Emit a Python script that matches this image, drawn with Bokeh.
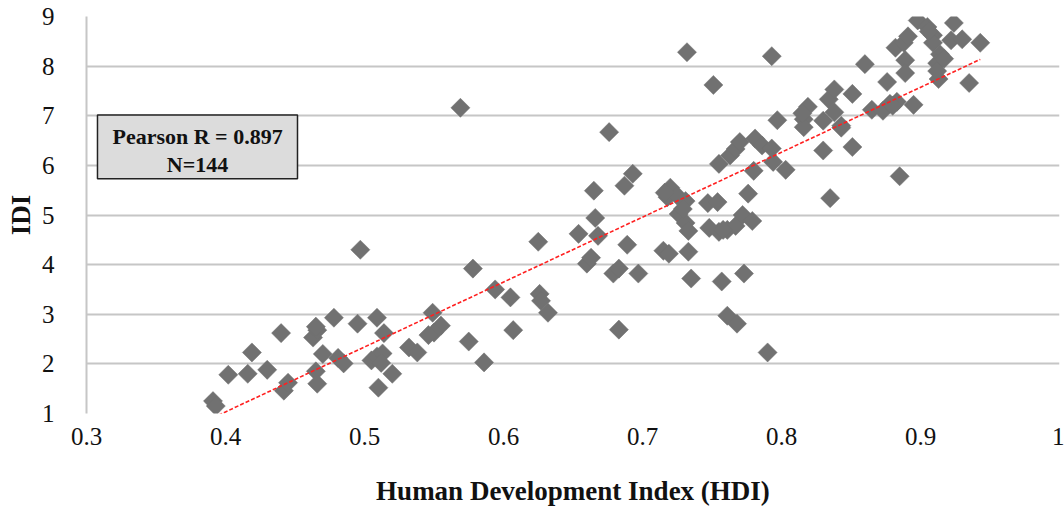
import numpy as np
from bokeh.plotting import figure
from bokeh.models import FixedTicker
from bokeh.core.properties import value
from bokeh.embed import file_html
from bokeh.resources import INLINE

hdi = [0.391, 0.393, 0.402, 0.416, 0.419, 0.430, 0.440, 0.442, 0.445, 0.463,
       0.466, 0.478, 0.470, 0.465, 0.466, 0.481, 0.485, 0.495, 0.497, 0.509,
       0.514, 0.505, 0.509, 0.513, 0.520, 0.510, 0.549, 0.555, 0.550, 0.546,
       0.532, 0.538, 0.575, 0.586, 0.578, 0.594, 0.605, 0.607, 0.625, 0.626,
       0.627, 0.632, 0.569, 0.654, 0.660, 0.663, 0.665, 0.666, 0.668, 0.676,
       0.679, 0.683, 0.683, 0.687, 0.689, 0.693, 0.697, 0.715, 0.719, 0.720,
       0.718, 0.725, 0.731, 0.726, 0.731, 0.733, 0.733, 0.735, 0.732, 0.747,
       0.754, 0.748, 0.755, 0.761, 0.767, 0.772, 0.779, 0.751, 0.757, 0.773,
       0.761, 0.768, 0.790, 0.755, 0.763, 0.767, 0.770, 0.781, 0.786, 0.793,
       0.794, 0.780, 0.776, 0.803, 0.797, 0.793, 0.819, 0.816, 0.816, 0.830,
       0.835, 0.830, 0.843, 0.834, 0.838, 0.838, 0.851, 0.851, 0.860, 0.865,
       0.873, 0.878, 0.883, 0.876, 0.885, 0.895, 0.882, 0.888, 0.891, 0.889,
       0.889, 0.898, 0.905, 0.909, 0.909, 0.922, 0.924, 0.930, 0.943, 0.914,
       0.912, 0.913, 0.935, 0.912, 0.716, 0.729, 0.758, 0.815, 0.843, 0.906,
       0.917, 0.465, 0.512, 0.880]
idi = [1.25, 1.15, 1.78, 1.80, 2.23, 1.88, 2.62, 1.46, 1.62, 2.53,
       2.68, 2.93, 2.20, 1.85, 1.60, 2.12, 2.01, 2.81, 4.30, 2.93,
       2.62, 2.07, 2.15, 2.21, 1.80, 1.52, 3.03, 2.77, 2.63, 2.58,
       2.33, 2.23, 2.45, 2.03, 3.92, 3.50, 3.34, 2.68, 4.46, 3.41,
       3.27, 3.03, 7.16, 4.62, 4.02, 4.14, 5.49, 4.94, 4.58, 6.67,
       3.82, 3.92, 2.69, 5.59, 4.40, 5.83, 3.82, 4.28, 4.22, 5.55,
       5.36, 5.39, 5.28, 5.02, 4.84, 4.68, 4.26, 3.72, 8.28, 5.24,
       5.26, 4.74, 4.66, 4.70, 4.78, 5.00, 4.88, 7.62, 3.66, 3.82,
       2.97, 2.81, 2.23, 6.03, 6.20, 6.33, 6.47, 6.54, 6.40, 6.34,
       6.07, 5.89, 5.43, 5.91, 6.91, 8.20, 7.18, 6.93, 6.77, 6.30,
       5.34, 6.90, 6.80, 7.33, 7.53, 7.07, 7.44, 6.37, 8.04, 7.12,
       7.10, 7.24, 7.28, 7.68, 5.78, 7.22, 8.37, 8.47, 8.60, 8.12,
       7.86, 8.92, 8.79, 8.62, 8.47, 8.52, 8.87, 8.54, 8.47, 8.24,
       8.06, 7.74, 7.66, 7.90, 5.45, 5.12, 4.70, 7.05, 6.76, 8.70,
       8.15, 2.75, 2.02, 7.20]

x_ticks = [0.3, 0.4, 0.5, 0.6, 0.7, 0.8, 0.9, 1.0]
y_ticks = [1, 2, 3, 4, 5, 6, 7, 8, 9]
stats_lines = ["Pearson R = 0.897", "N=144"]

serif = "Liberation Serif"

p = figure(width=1064, height=509, output_backend="svg", toolbar_location=None,
           x_range=(0.3, 1.0), y_range=(1, 9),
           min_border_left=86, min_border_right=5, min_border_top=16, min_border_bottom=96)
p.outline_line_color = None
p.background_fill_color = "white"

# grid
p.xgrid.grid_line_color = None
p.ygrid.ticker = FixedTicker(ticks=y_ticks)
p.ygrid.grid_line_color = "#c6c6c6"
p.ygrid.grid_line_width = 2

# axes
p.xaxis.ticker = FixedTicker(ticks=x_ticks)
p.xaxis.major_label_overrides = {1.0: "1"}
p.yaxis.ticker = FixedTicker(ticks=y_ticks)
for ax in (p.xaxis[0], p.yaxis[0]):
    ax.major_tick_line_color = None
    ax.minor_tick_line_color = None
    ax.major_label_text_font = serif
    ax.major_label_text_font_size = "25px"
    ax.major_label_text_color = "#111111"
    ax.axis_label_text_font = serif
    ax.axis_label_text_font_style = "bold"
    ax.axis_label_text_color = "#111111"
p.xaxis.axis_line_color = None
p.yaxis.axis_line_color = "#c6c6c6"
p.yaxis.axis_line_width = 2
p.xaxis.axis_label = "Human Development Index (HDI)"
p.yaxis.axis_label = "IDI"
p.xaxis.axis_label_text_font_size = "27px"
p.yaxis.axis_label_text_font_size = "27px"
p.xaxis.major_label_standoff = 8
p.yaxis.major_label_standoff = 26
p.xaxis.axis_label_standoff = 28
p.yaxis.axis_label_standoff = 3

# points
p.scatter(hdi, idi, marker="square", angle=np.pi / 4, size=13.5,
          fill_color="#717171", line_color="#717171", line_width=0.5)

# linear trendline fitted from the data
xa = np.array(hdi)
ya = np.array(idi)
slope, intercept = np.polyfit(xa, ya, 1)
xl = np.array([xa.min(), xa.max()])
p.line(xl, slope * xl + intercept, line_color="#ff2020", line_width=1.6, line_dash="4 2")

# annotation box
p.quad(left=[0.3079], right=[0.4518], bottom=[5.73], top=[7.015],
       fill_color="#dcdcdc", line_color="#222222", line_width=1.5)
p.text(x=[0.3799, 0.3799], y=[6.58, 6.02], text=stats_lines,
       text_font=value(serif), text_font_style="bold", text_font_size="22px",
       text_align="center", text_baseline="middle", text_color="#111111")

open("out.html", "w").write(file_html(p, INLINE))
